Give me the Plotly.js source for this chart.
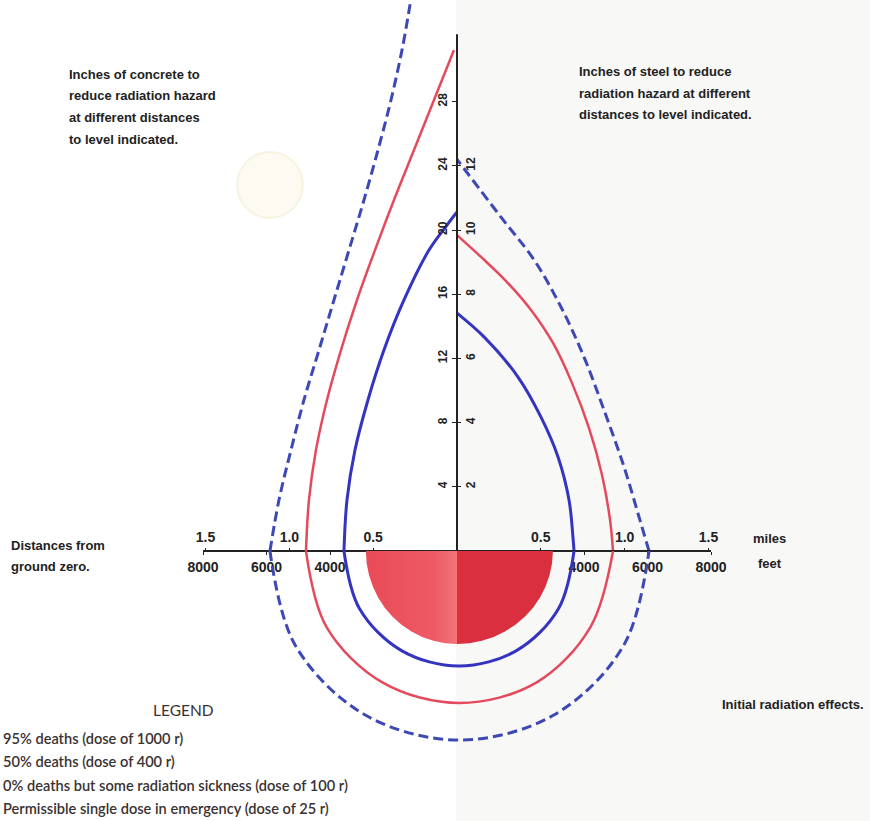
<!DOCTYPE html>
<html><head><meta charset="utf-8">
<script src="https://cdn.plot.ly/plotly-3.0.1.min.js"></script>
<style>html,body{margin:0;padding:0;background:#fff}#chart{width:870px;height:821px}</style>
</head><body><div id="chart"></div>
<script>
// ---------- DATA ----------
// Upper left: inches of concrete vs distance (feet, left of ground zero)
const conc400Ft = [-3560, -3465, -3213, -2804, -2300, -1670, -882, -315, 0];
const conc400In = [0, 3.18, 6.29, 9.41, 12.52, 15.64, 18.75, 20.31, 21.12];
const conc100Ft = [-4757, -4662, -4442, -4095, -3654, -3150, -2583, -1985, -1355, -725, -95];
const conc100In = [0, 3.18, 6.29, 9.41, 12.52, 15.64, 18.75, 21.87, 24.98, 28.10, 31.21];
const conc25Ft = [-5891, -5607, -5229, -4820, -4347, -3875, -3402, -2930, -2489, -2079, -1733, -1481, -1386];
const conc25In = [0, 3.18, 6.29, 9.41, 12.52, 15.64, 18.75, 21.87, 24.98, 28.10, 31.21, 34.02, 35.26];

// Upper right: inches of steel vs distance (feet, right of ground zero)
const steel400Ft = [3686, 3660, 3528, 3182, 2646, 1922, 851, 0];
const steel400In = [0, 0.34, 1.59, 2.93, 4.17, 5.42, 6.67, 7.41];
const steel100Ft = [4914, 4820, 4568, 4158, 3623, 3024, 2331, 1544, 756, 0];
const steel100In = [0, 0.97, 2.37, 3.83, 5.23, 6.48, 7.51, 8.41, 9.16, 9.84];
const steel25Ft = [6048, 5733, 5261, 4631, 4001, 3276, 2426, 1386, 0];
const steel25In = [0, 1.06, 2.62, 4.39, 6.04, 7.60, 9.07, 10.40, 12.2];

// Lower half: initial radiation effects, ground range (feet)
const ground400Ft = [-3560, -3074, -1748, 63, 1874, 3200, 3686];
const ground400Depth = [0, -1811, -3137, -3623, -3137, -1811, 0];
const ground100Ft = [-4757, -4108, -2337, 79, 2498, 4202, 4914];
const ground100Depth = [0, -2394, -4145, -4788, -4145, -2394, 0];
const ground25Ft = [-5891, -5090, -2904, 79, 3065, 5248, 6048];
const ground25Depth = [0, -2977, -5157, -5954, -5157, -2977, 0];
const zone1000LeftFt = [0, -2870, -2846, -2772, -2650, -2485, -2277, -2029, -1747, -1435, -1098, -743, -375, 0, 0];
const zone1000LeftDepth = [0, 0, -382, -758, -1121, -1465, -1784, -2072, -2325, -2537, -2707, -2830, -2905, -2930, 0];
const zone1000RightFt = [0, 0, 394, 782, 1156, 1510, 1838, 2135, 2396, 2615, 2790, 2917, 2994, 3020, 0];
const zone1000RightDepth = [0, -2930, -2905, -2830, -2707, -2537, -2325, -2072, -1784, -1465, -1121, -758, -382, 0, 0];

// Tick labels
const feetTicks = [-8000, -6000, -4000, -2000, 2000, 4000, 6000, 8000];
const feetLabels = ['8000', '6000', '4000', '2000', '2000', '4000', '6000', '8000'];
const mileTicks = [-1.5, -1.0, -0.5, 0.5, 1.0, 1.5];
const mileLabels = ['1.5', '1.0', '0.5', '0.5', '1.0', '1.5'];
const concreteTicks = [4, 8, 12, 16, 20, 24, 28];
const steelTicks = [2, 4, 6, 8, 10, 12];

const legendLines = [
  '95% deaths (dose of 1000 r)',
  '50% deaths (dose of 400 r)',
  '0% deaths but some radiation sickness (dose of 100 r)',
  'Permissible single dose in emergency (dose of 25 r)'
];
const concreteNote = ['Inches of concrete to', 'reduce radiation hazard', 'at different distances', 'to level indicated.'];
const steelNote = ['Inches of steel to reduce', 'radiation hazard at different', 'distances to level indicated.'];
const distNote = ['Distances from', 'ground zero.'];

// ---------- STYLE / LAYOUT ----------
const FEET_PER_MILE = 5280;
const W = 870, H = 821;
const AXIS_PX_Y = 551, AXIS_PX_X = 456;
const PX_PER_FT = 0.03175, PX_PER_IN_CONC = 16.05;
const yAxisFrac = (H - AXIS_PX_Y) / H;
const xAxisFrac = AXIS_PX_X / W;
const xDomain = [203 / W, 711 / W];
const concTop = AXIS_PX_Y / PX_PER_IN_CONC;
const groundBottom = -(H - AXIS_PX_Y) / PX_PER_FT;
const AXIS_TOP_IN = 32.2;

const BLUE = '#3434c0', BLUE_D = '#3d48b5', RED = '#e34b5d';
const grot = 'Liberation Sans, Arial, sans-serif';
const ink = '#222222';

function line(x, y, xa, ya, color, width, dash) {
  return {x: x, y: y, xaxis: xa, yaxis: ya, type: 'scatter', mode: 'lines',
    line: {color: color, width: width, dash: dash || 'solid', shape: 'spline', smoothing: 1},
    hoverinfo: 'skip'};
}
const traces = [
  {x: zone1000LeftFt, y: zone1000LeftDepth, xaxis: 'x', yaxis: 'y3', type: 'scatter', mode: 'lines',
   fill: 'toself', fillcolor: '#eb5360',
   fillgradient: {type: 'horizontal', colorscale: [[0, '#e94a58'], [0.75, '#ee5a65'], [1, '#f27479']]},
   line: {width: 0}, hoverinfo: 'skip'},
  {x: zone1000RightFt, y: zone1000RightDepth, xaxis: 'x', yaxis: 'y3', type: 'scatter', mode: 'lines',
   fill: 'toself', fillcolor: '#d92f3f', line: {width: 0}, hoverinfo: 'skip'},
  line(conc400Ft, conc400In, 'x2', 'y', BLUE, 3),
  line(conc100Ft, conc100In, 'x2', 'y', RED, 2.5),
  line(conc25Ft, conc25In, 'x2', 'y', BLUE_D, 3, '10px,5px'),
  line(steel400Ft, steel400In, 'x', 'y2', BLUE, 3),
  line(steel100Ft, steel100In, 'x', 'y2', RED, 2.5),
  line(steel25Ft, steel25In, 'x', 'y2', BLUE_D, 3, '10px,5px'),
  line(ground400Ft, ground400Depth, 'x', 'y3', BLUE, 3),
  line(ground100Ft, ground100Depth, 'x', 'y3', RED, 2.5),
  line(ground25Ft, ground25Depth, 'x', 'y3', BLUE_D, 3, '10px,5px')
];

const tickFont = {family: grot, size: 14, color: ink, weight: 'bold'};
const vTickFont = {family: grot, size: 12, color: ink, weight: 'bold'};

const annotations = [];
function note(text, px, py, anchor, font) {
  annotations.push({text: text, xref: 'paper', yref: 'paper', x: px / W, y: 1 - py / H,
    xanchor: anchor, align: anchor === 'center' ? 'center' : anchor, yanchor: 'middle', showarrow: false,
    font: font});
}
const noteFont = {family: grot, size: 13, color: ink, weight: 'bold'};
concreteNote.forEach((t, i) => note(t, 67, 74 + i * 21.7, 'left', noteFont));
steelNote.forEach((t, i) => note(t, 577, 72 + i * 21.5, 'left', noteFont));
distNote.forEach((t, i) => note(t, 9, 545 + i * 21, 'left', noteFont));
note('Initial radiation effects.', 866, 704, 'right', noteFont);
note('miles', 751, 538, 'left', noteFont);
note('feet', 756, 563, 'left', noteFont);
const legendFont = {family: 'Lato, sans-serif', size: 14.6, color: '#3a3232', weight: 600};
note('LEGEND', 183, 710, 'center', {family: 'Lato, sans-serif', size: 15.5, color: '#3a3232'});
legendLines.forEach((t, i) => note(t, 1, 738 + i * 23.5, 'left', legendFont));

const layout = {
  width: W, height: H, margin: {l: 0, r: 0, t: 0, b: 0},
  paper_bgcolor: '#ffffff', plot_bgcolor: 'rgba(0,0,0,0)', showlegend: false,
  xaxis: {domain: xDomain, range: [-8000, 8000], anchor: 'free', position: yAxisFrac,
    showline: true, linecolor: ink, linewidth: 2, ticks: 'outside', ticklen: 3, tickcolor: ink,
    tickvals: feetTicks, ticktext: feetLabels, tickfont: tickFont, showgrid: false, zeroline: false, fixedrange: true},
  xaxis2: {domain: xDomain, range: [-8000, 8000], overlaying: 'x', side: 'top', anchor: 'free', position: yAxisFrac,
    showline: false, ticks: 'outside', ticklen: 3, tickcolor: ink,
    tickvals: mileTicks.map(m => m * FEET_PER_MILE), ticktext: mileLabels, tickfont: tickFont,
    showgrid: false, zeroline: false, fixedrange: true},
  yaxis: {domain: [yAxisFrac, 1], range: [0, concTop], anchor: 'free', position: xAxisFrac, side: 'left',
    showline: false, ticks: 'outside', ticklen: 4, tickcolor: ink, tickvals: concreteTicks, tickangle: -90,
    tickfont: vTickFont, showgrid: false, zeroline: false, fixedrange: true},
  yaxis2: {domain: [yAxisFrac, 1], range: [0, concTop / 2], overlaying: 'y', anchor: 'free', position: xAxisFrac, side: 'right',
    showline: false, ticks: 'outside', ticklen: 4, tickcolor: ink, tickvals: steelTicks, tickangle: -90,
    tickfont: vTickFont, showgrid: false, zeroline: false, fixedrange: true},
  yaxis3: {domain: [0, yAxisFrac], range: [groundBottom, 0], anchor: 'x', visible: false, fixedrange: true},
  shapes: [
    {type: 'rect', xref: 'paper', yref: 'paper', x0: xAxisFrac, x1: 1, y0: 0, y1: 1,
     fillcolor: '#f8f8f7', line: {width: 0}, layer: 'below'},
    {type: 'circle', xref: 'paper', yref: 'paper', x0: 237 / W, x1: 303 / W, y0: 1 - 218 / H, y1: 1 - 152 / H,
     fillcolor: 'rgba(240,232,190,0.22)', line: {color: 'rgba(228,215,160,0.25)', width: 2}, layer: 'below'},
    {type: 'line', xref: 'x2', yref: 'y', x0: 0, x1: 0, y0: 0, y1: AXIS_TOP_IN,
     line: {color: ink, width: 2}}
  ],
  annotations: annotations
};

Plotly.newPlot('chart', traces, layout, {staticPlot: true, displayModeBar: false});
</script></body></html>
